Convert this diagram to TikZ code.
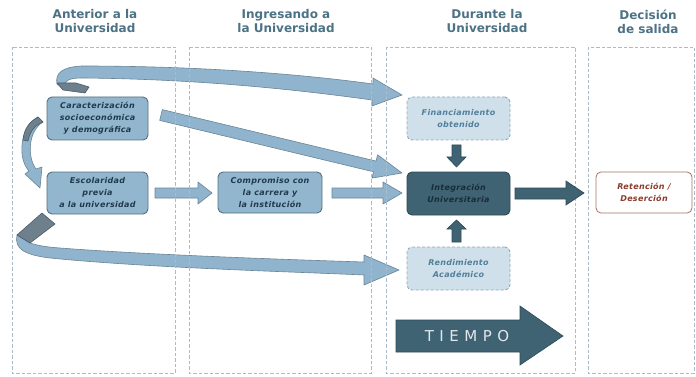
\documentclass[tikz,border=0pt]{standalone}
\usepackage{fontspec}
\setmainfont{DejaVu Sans}
\definecolor{colline}{HTML}{A8BCCB}
\definecolor{hdr}{HTML}{4C7285}
\definecolor{boxfill}{HTML}{93B6CF}
\definecolor{boxline}{HTML}{56707E}
\definecolor{boxtext}{HTML}{1F3A4D}
\definecolor{ribfill}{HTML}{90B4CE}
\definecolor{ribline}{HTML}{6A8495}
\definecolor{ribdark}{HTML}{6E808B}
\definecolor{softfill}{HTML}{CFE0EB}
\definecolor{softline}{HTML}{8EAABD}
\definecolor{softtext}{HTML}{527F9A}
\definecolor{darkfill}{HTML}{3F6373}
\definecolor{darkline}{HTML}{2E4A57}
\definecolor{darktext}{HTML}{182C38}
\definecolor{retline}{HTML}{A27565}
\definecolor{rettext}{HTML}{8B3B2B}
\definecolor{tiempotext}{HTML}{E2E8EC}
\tikzset{
  column/.style={draw=colline, dash pattern=on 3.5pt off 2pt, line width=0.8pt},
  header/.style={text=hdr, align=center, inner sep=0pt, font=\fontsize{12}{14}\selectfont\bfseries},
  basebox/.style={rounded corners=5pt, align=center, inner sep=0pt,
    font=\fontsize{8}{12}\selectfont\bfseries\itshape\addfontfeatures{LetterSpace=4}},
  lbox/.style={basebox, draw=boxline, fill=boxfill, line width=0.9pt, text=boxtext},
  sbox/.style={basebox, draw=softline, fill=softfill, line width=0.9pt, dash pattern=on 3pt off 2pt, text=softtext},
  dbox/.style={basebox, draw=darkline, fill=darkfill, line width=0.9pt, text=darktext},
  rbox/.style={basebox, draw=retline, fill=white, line width=0.8pt, text=rettext},
  ribbon/.style={fill=ribfill, draw=ribline, line width=0.6pt, line join=round},
  ribback/.style={fill=ribdark, draw=ribline!70!black, line width=0.6pt, line join=round},
  darrow/.style={fill=darkfill, draw=darkline, line width=0.6pt, line join=miter}
}
\begin{document}
\begin{tikzpicture}[x=1pt,y=-1pt]
\useasboundingbox[fill=white] (0,0) rectangle (696,377);

% headers
\node[header] (h1) at (95,21.5) {Anterior a la\\Universidad};
\node[header] (h2) at (286,21.5) {Ingresando a\\la Universidad};
\node[header] (h3) at (487,21.5) {Durante la\\Universidad};
\node[header] (h4) at (648,21.5) {Decisión\\de salida};

% ribbons (drawn shapes)
% top ribbon
\path[ribbon] (57,84) .. controls (55,73) and (62,67) .. (82,66)
  .. controls (200,66) and (300,74) .. (373,84) -- (373,78) -- (402,95) -- (372,106) -- (372,100)
  .. controls (300,90) and (200,79) .. (82,78)
  .. controls (70,78) and (64,80) .. (63,88) -- cycle;
\path[ribback] (57,83) -- (63,90) -- (85,93) -- (89,87) -- (76,83) -- cycle;
% diagonal ribbon
\path[ribbon] (162.3,109.6) -- (376.1,161.1) -- (377.6,154.8) -- (402,173) -- (372.0,178.1) -- (373.5,171.8) -- (159.7,120.4) -- cycle;
% left curved arrow
\path[ribbon] (38,117) .. controls (20,127) and (17,158) .. (29,171) -- (25,174) -- (40,188) -- (42,167) -- (36,169)
  .. controls (27,157) and (28,131) .. (43,122) -- cycle;
\path[ribback] (38,117) .. controls (29,122) and (24,129) .. (23,140) -- (28,141)
  .. controls (30,131) and (35,125) .. (43,122) -- cycle;
% bottom ribbon
\path[ribbon] (17,235) .. controls (14,249) and (25,255) .. (50,258)
  .. controls (150,268) and (300,272) .. (364,275) -- (364,285) -- (399,270) -- (364,255) -- (364,262)
  .. controls (300,260) and (150,255) .. (60,248)
  .. controls (45,247) and (36,245) .. (30,243) -- cycle;
\path[ribback] (42,213) -- (55,224) -- (30,243) -- (17,235) -- cycle;
% straight light arrows
\path[ribbon] (155,188) -- (198,188) -- (198,182) -- (212,193) -- (198,204) -- (198,198) -- (155,198) -- cycle;
\path[ribbon] (332,188) -- (383,188) -- (383,182) -- (402,193) -- (383,204) -- (383,198) -- (332,198) -- cycle;

% columns
\draw[column] (12,47) rectangle (175,373);
\draw[column] (189,47) rectangle (371,373);
\draw[column] (386,47) rectangle (575,373);
\draw[column] (588,47) rectangle (694,373);

% dark arrows
\path[darrow] (515,188) -- (566,188) -- (566,181) -- (584,193) -- (566,205) -- (566,199) -- (515,199) -- cycle;
\path[darrow] (452,145) -- (461,145) -- (461,157) -- (466,157) -- (456.5,167) -- (447,157) -- (452,157) -- cycle;
\path[darrow] (452,242) -- (461,242) -- (461,229) -- (466,229) -- (456.5,220) -- (447,229) -- (452,229) -- cycle;
\path[darrow] (396,320) -- (520,320) -- (520,306) -- (563,336) -- (520,365) -- (520,352) -- (396,352) -- cycle;
\node[text=tiempotext, font=\fontsize{15}{15}\selectfont, inner sep=0pt] (tiempo) at (467,336) {T\hspace{5.5pt}I\hspace{5.5pt}E\hspace{5.5pt}M\hspace{5.5pt}P\hspace{5.5pt}O};

% boxes
\node[lbox, minimum width=101pt, minimum height=43pt] (car) at (97.5,118.5) {Caracterización\\socioeconómica\\y demográfica};
\node[lbox, minimum width=101pt, minimum height=42pt] (esc) at (97.5,193) {Escolaridad\\previa\\a la universidad};
\node[lbox, minimum width=104pt, minimum height=41pt] (comp) at (270,192.5) {Compromiso con\\la carrera y\\la institución};
\node[sbox, minimum width=103pt, minimum height=43pt] (fin) at (458.5,118.5) {Financiamiento\\obtenido};
\node[dbox, minimum width=103pt, minimum height=43pt] (int) at (458.5,193.5) {Integración\\Universitaria};
\node[sbox, minimum width=103pt, minimum height=43pt] (rend) at (458.5,268.5) {Rendimiento\\Académico};
\node[rbox, minimum width=96pt, minimum height=41pt] (ret) at (644,192.5) {Retención /\\Deserción};
\end{tikzpicture}
\end{document}
